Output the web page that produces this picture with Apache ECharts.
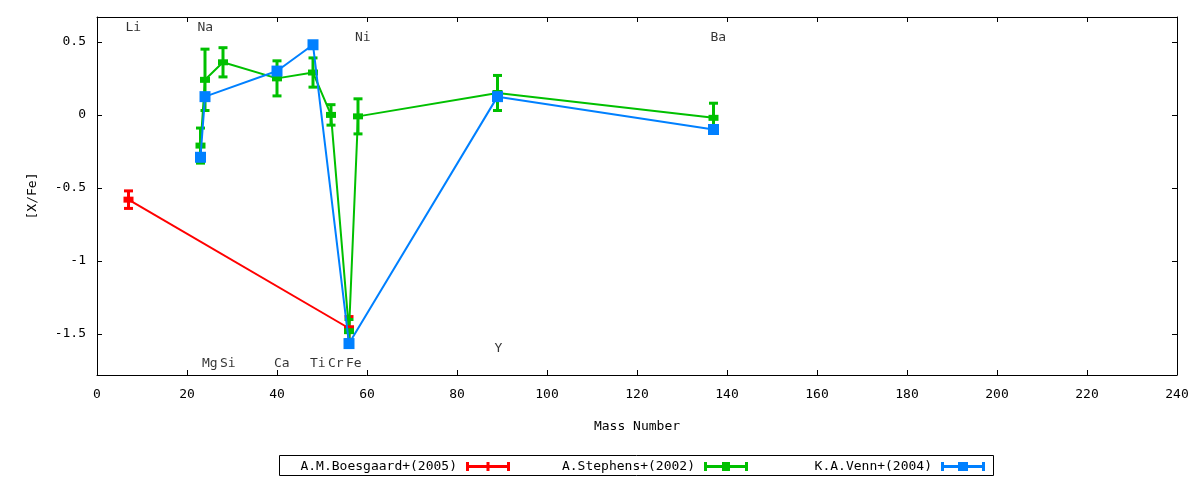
<!DOCTYPE html>
<html>
<head>
<meta charset="utf-8">
<script src="https://cdn.jsdelivr.net/npm/echarts@6/dist/echarts.min.js"></script>
<style>html,body{margin:0;padding:0;background:#fff}#c{width:1200px;height:480px}</style>
</head>
<body>
<div id="c"></div>
<script>
// ---- element labels ----
const elementNames = ['Li','Na','Mg','Si','Ca','Ti','Cr','Fe','Ni','Y','Ba'];
const elementMass  = [7, 23, 24, 28, 40, 48, 52, 56, 58, 89, 137];
const elementLabelY = [0.6, 0.6, -1.70, -1.70, -1.70, -1.70, -1.70, -1.70, 0.53, -1.60, 0.53];

// ---- A.M.Boesgaard+(2005) ----
const boesgaardMass = [7, 56];
const boesgaardXFe  = [-0.58, -1.46];
const boesgaardErr  = [0.06, 0.08];

// ---- A.Stephens+(2002) ----
const stephensMass = [23, 24, 28, 40, 48, 52, 56, 58, 89, 137];
const stephensXFe  = [-0.21, 0.24, 0.36, 0.25, 0.29, 0.00, -1.48, -0.01, 0.15, -0.02];
const stephensErr  = [0.12, 0.21, 0.10, 0.12, 0.10, 0.07, 0.08, 0.12, 0.12, 0.10];

// ---- K.A.Venn+(2004) ----
const vennMass = [23, 24, 40, 48, 56, 89, 137];
const vennXFe  = [-0.29, 0.125, 0.30, 0.48, -1.565, 0.125, -0.10];

// ---- axis ticks ----
const yTickValues = [-1.5, -1, -0.5, 0, 0.5];
const xMin = 0, xMax = 240, xStep = 20;
const yMin = -1.78, yMax = 0.67;

const FONT = 'DejaVu Sans Mono';
const RED = '#ff0000', GREEN = '#00c000', BLUE = '#0080ff';

function zip(a, b, c) { return a.map((v, i) => c ? [v, b[i], c[i]] : [v, b[i]]); }

function errorBarSeries(name, color, data) {
  return {
    type: 'custom', name: name, silent: true, z: 2,
    data: data,
    renderItem: function (params, api) {
      const x = api.value(0), y = api.value(1), e = api.value(2);
      const top = api.coord([x, y + e]);
      const bot = api.coord([x, y - e]);
      const hw = 4.5;
      const style = { stroke: color, lineWidth: 3 };
      return {
        type: 'group',
        children: [
          { type: 'line', shape: { x1: top[0], y1: top[1], x2: bot[0], y2: bot[1] }, style: style },
          { type: 'line', shape: { x1: top[0] - hw, y1: top[1], x2: top[0] + hw, y2: top[1] }, style: style },
          { type: 'line', shape: { x1: bot[0] - hw, y1: bot[1], x2: bot[0] + hw, y2: bot[1] }, style: style }
        ]
      };
    }
  };
}

function lineSeries(name, color, data, symbol, size, z) {
  return {
    type: 'line', name: name, data: data, z: z,
    symbol: symbol, symbolSize: size, showAllSymbol: true,
    lineStyle: { color: color, width: 2 },
    itemStyle: { color: color },
    emphasis: { disabled: true },
    animation: false
  };
}

const iconRed   = 'path://M0,0H3V9H0Z M41,0H44V9H41Z M0,3H44V6H0Z M20.5,0H23.5V9H20.5Z';
const iconGreen = 'path://M0,0H3V9H0Z M41,0H44V9H41Z M0,3H44V6H0Z M18,0H26V9H18Z';
const iconBlue  = 'path://M0,0H3V9H0Z M41,0H44V9H41Z M0,3H44V6H0Z M17,0H27V9H17Z';

function legendAt(rightPx, name, icon) {
  return {
    right: rightPx, top: 460, padding: 0, align: 'right',
    itemWidth: 44, itemHeight: 9,
    selectedMode: false,
    textStyle: { fontFamily: FONT, fontSize: 13, color: '#000', padding: [0, 4, 0, 0] },
    data: [{ name: name, icon: icon }]
  };
}

const axisCommonX = {
  type: 'value', min: xMin, max: xMax, interval: xStep,
  axisLine: { show: true, onZero: false, lineStyle: { color: '#000', width: 1 } },
  axisTick: { show: true, inside: true, length: 5, lineStyle: { color: '#000' } },
  splitLine: { show: false }
};
const axisCommonY = {
  type: 'value', min: yMin, max: yMax,
  axisLine: { show: true, onZero: false, lineStyle: { color: '#000', width: 1 } },
  axisTick: { show: true, inside: true, length: 5, customValues: yTickValues, lineStyle: { color: '#000' } },
  splitLine: { show: false }
};

const option = {
  backgroundColor: '#fff',
  animation: false,
  grid: { left: 97, right: 23, top: 17, bottom: 105, containLabel: false },
  xAxis: [
    Object.assign({}, axisCommonX, {
      position: 'bottom',
      axisLabel: { show: true, margin: 13, color: '#000', fontFamily: FONT, fontSize: 13 },
      name: 'Mass Number', nameLocation: 'middle', nameGap: 45,
      nameTextStyle: { color: '#000', fontFamily: FONT, fontSize: 13 }
    }),
    Object.assign({}, axisCommonX, { position: 'top', axisLabel: { show: false } })
  ],
  yAxis: [
    Object.assign({}, axisCommonY, {
      position: 'left',
      axisLabel: { show: true, margin: 11, customValues: yTickValues, color: '#000', fontFamily: FONT, fontSize: 13,
                   formatter: v => String(v) },
      name: '[X/Fe]', nameLocation: 'middle', nameGap: 58, nameRotate: 90,
      nameTextStyle: { color: '#000', fontFamily: FONT, fontSize: 13 }
    }),
    Object.assign({}, axisCommonY, { position: 'right', axisLabel: { show: false } })
  ],
  legend: [
    legendAt(1200 - 510, 'A.M.Boesgaard+(2005)', iconRed),
    legendAt(1200 - 748, 'A.Stephens+(2002)', iconGreen),
    legendAt(1200 - 985, 'K.A.Venn+(2004)', iconBlue)
  ],
  graphic: [{
    type: 'rect', left: 277, top: 453, silent: true,
    shape: { width: 714, height: 20 },
    style: { fill: 'none', stroke: '#000', lineWidth: 1 }
  }],
  series: [
    errorBarSeries('err-boesgaard', RED, zip(boesgaardMass, boesgaardXFe, boesgaardErr)),
    lineSeries('A.M.Boesgaard+(2005)', RED, zip(boesgaardMass, boesgaardXFe), 'rect', [10, 6], 3),
    errorBarSeries('err-stephens', GREEN, zip(stephensMass, stephensXFe, stephensErr)),
    lineSeries('A.Stephens+(2002)', GREEN, zip(stephensMass, stephensXFe), 'rect', [10, 6], 3),
    lineSeries('K.A.Venn+(2004)', BLUE, zip(vennMass, vennXFe), 'rect', 11, 4),
    {
      type: 'scatter', name: 'elements', silent: true, z: 5,
      symbolSize: 0,
      data: elementNames.map((n, i) => ({ name: n, value: [elementMass[i], elementLabelY[i]] })),
      label: {
        show: true, position: 'inside', align: 'left', verticalAlign: 'middle', offset: [-3, 0],
        formatter: p => p.name, color: '#000', fontFamily: FONT, fontSize: 13
      }
    }
  ]
};

const chart = echarts.init(document.getElementById('c'), null, { renderer: 'canvas' });
chart.setOption(option);
</script>
</body>
</html>
